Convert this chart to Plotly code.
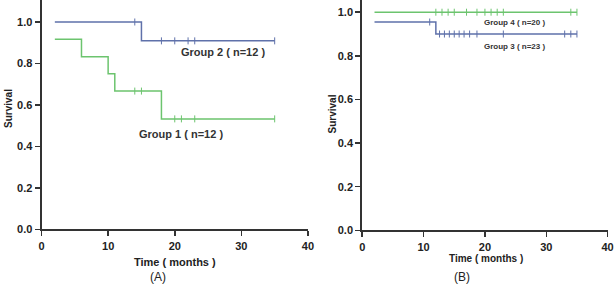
import plotly.graph_objects as go

# ---------------- data ----------------
# Panel A
g1_times = [2, 6, 10, 11, 18, 35]
g1_surv = [0.917, 0.833, 0.75, 0.667, 0.533, 0.533]
g1_cens = [14, 15, 20, 21, 23, 35]

g2_times = [2, 15, 35]
g2_surv = [1.0, 0.909, 0.909]
g2_cens = [14, 18, 20, 22, 23, 35]

# Panel B
g3_times = [2, 12, 35]
g3_surv = [0.955, 0.90, 0.90]
g3_cens = [11, 12.6, 13.4, 14.2, 15, 15.8, 16.6, 17.5, 18.7, 23, 33, 34, 35]

g4_times = [2, 35]
g4_surv = [1.0, 1.0]
g4_cens = [12, 13, 14, 15, 17, 18.7, 20, 21, 22, 23, 34, 35]

x_ticks = [0, 10, 20, 30, 40]
y_ticks = [0.0, 0.2, 0.4, 0.6, 0.8, 1.0]

labels = ["Group 1 ( n=12 )", "Group 2 ( n=12 )", "Group 3 ( n=23 )", "Group 4 ( n=20 )"]

BLUE = "#5f71aa"
GREEN = "#6cc46e"
AXIS = "#333333"
FONT = "Arial, Liberation Sans, sans-serif"


def surv_at(times, surv, t):
    val = surv[0]
    for ti, si in zip(times, surv):
        if ti <= t:
            val = si
    return val


fig = go.Figure()


def add_group(times, surv, cens, color, xa, ya):
    fig.add_trace(go.Scatter(x=times, y=surv, mode="lines", line=dict(color=color, width=1.5, shape="hv"),
                             xaxis=xa, yaxis=ya, showlegend=False, hoverinfo="skip", cliponaxis=False))
    fig.add_trace(go.Scatter(x=cens, y=[surv_at(times, surv, c) for c in cens], mode="markers",
                             marker=dict(symbol="line-ns", size=5, line=dict(color=color, width=1)),
                             xaxis=xa, yaxis=ya, showlegend=False, hoverinfo="skip", cliponaxis=False))


add_group(g2_times, g2_surv, g2_cens, BLUE, "x", "y")
add_group(g1_times, g1_surv, g1_cens, GREEN, "x", "y")
add_group(g3_times, g3_surv, g3_cens, BLUE, "x2", "y2")
add_group(g4_times, g4_surv, g4_cens, GREEN, "x2", "y2")

tf = dict(family=FONT, size=11, color="#222", weight="bold")
xcommon = dict(range=[0, 40], tickvals=x_ticks, ticks="outside", ticklen=5, tickwidth=1.5, tickcolor=AXIS,
               showline=True, linecolor=AXIS, linewidth=2, showgrid=False, zeroline=False,
               tickfont=tf, fixedrange=True, automargin=False)
ycommon = dict(tickvals=y_ticks, tickformat=".1f", ticks="outside", ticklen=5, tickwidth=1.5, tickcolor=AXIS,
               showline=True, linecolor=AXIS, linewidth=2, showgrid=False, zeroline=False,
               tickfont=tf, fixedrange=True, automargin=False)

fig.update_layout(
    width=615, height=284,
    margin=dict(l=0, r=0, t=0, b=0),
    paper_bgcolor="white", plot_bgcolor="white",
    xaxis=dict(domain=[0.0675, 0.5008], anchor="y", **xcommon),
    yaxis=dict(domain=[0.192, 1.0], anchor="x", range=[0, 1.106], **ycommon),
    xaxis2=dict(domain=[0.589, 0.988], anchor="y2", **xcommon),
    yaxis2=dict(domain=[0.189, 1.0], anchor="x2", range=[0, 1.056], **ycommon),
)

ann = []


def a(**kw):
    d = dict(showarrow=False, xanchor="center", yanchor="middle")
    d.update(kw)
    ann.append(d)


# group labels
a(x=27.3, y=0.853, xref="x", yref="y", text="<b>" + labels[1] + "</b>",
  font=dict(family=FONT, size=11, color="#333"))
a(x=21.0, y=0.46, xref="x", yref="y", text="<b>" + labels[0] + "</b>",
  font=dict(family=FONT, size=11, color="#333"))
a(x=24.9, y=0.952, xref="x2", yref="y2", text="<b>" + labels[3] + "</b>",
  font=dict(family=FONT, size=8, color="#333"))
a(x=24.8, y=0.845, xref="x2", yref="y2", text="<b>" + labels[2] + "</b>",
  font=dict(family=FONT, size=8, color="#333"))
# axis titles (paper coords)
for xp, yp in [(8 / 615, 1 - 109 / 284), (331.5 / 615, 1 - 114 / 284)]:
    a(x=xp, y=yp, xref="paper", yref="paper", text="<b>Survival</b>", textangle=-90,
      font=dict(family=FONT, size=10, color="#222"))
a(x=175 / 615, y=1 - 262 / 284, xref="paper", yref="paper", text="<b>Time ( months )</b>",
  font=dict(family=FONT, size=11, color="#222"))
a(x=486 / 615, y=1 - 258.7 / 284, xref="paper", yref="paper", text="<b>Time ( months )</b>",
  font=dict(family=FONT, size=10, color="#222"))
a(x=158 / 615, y=1 - 277 / 284, xref="paper", yref="paper", text="(A)",
  font=dict(family=FONT, size=12, color="#222"))
a(x=461.7 / 615, y=1 - 277 / 284, xref="paper", yref="paper", text="(B)",
  font=dict(family=FONT, size=12, color="#222"))
fig.update_layout(annotations=ann)

fig.write_html("out.html", config={"displayModeBar": False, "staticPlot": True},
               post_script="document.body.style.margin='0';document.body.style.overflow='hidden';")
